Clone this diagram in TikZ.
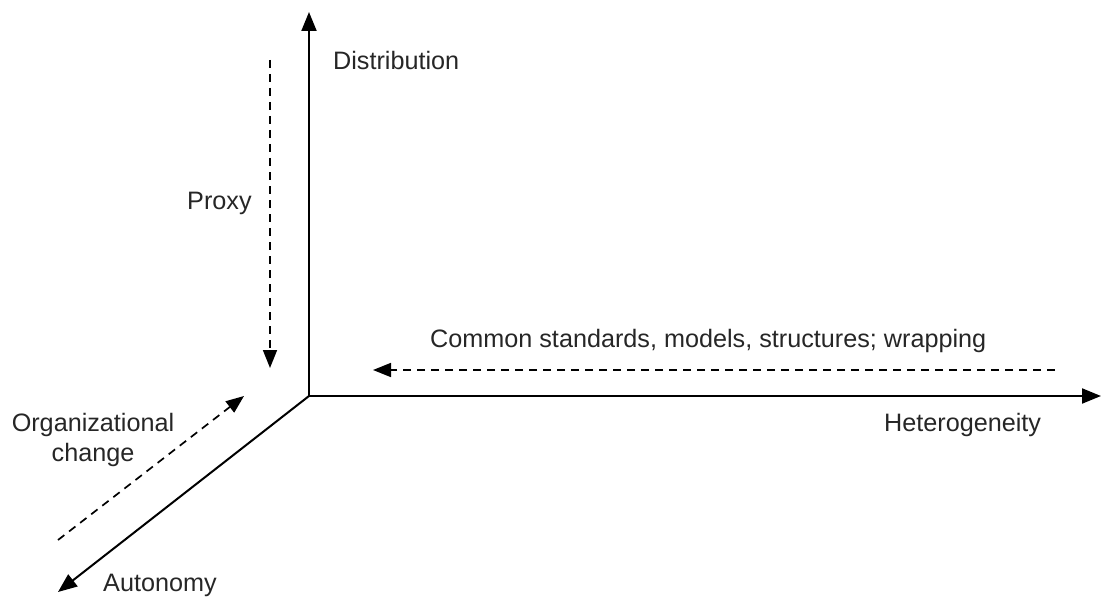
\documentclass[tikz,border=0pt]{standalone}
\usepackage{fontspec}
\setmainfont{Liberation Sans}
\usetikzlibrary{arrows.meta}
\begin{document}
\begin{tikzpicture}[x=1pt,y=-1pt,
  axis/.style={line width=2pt,-{Triangle[length=19pt,width=15pt]}},
  dashline/.style={line width=1.7pt,dash pattern=on 8pt off 6pt,-{Triangle[length=18pt,width=14pt]}},
  lbl/.style={font=\fontsize{25.2}{30}\selectfont,inner sep=0pt,text=black!85}]
\useasboundingbox (0,0) rectangle (1103,599);
\coordinate (O) at (309,396);
\coordinate (Ytop) at (309,12);
\coordinate (Xend) at (1101,396);
\coordinate (Zend) at (58,592);
\draw[axis] (O) -- (Ytop);
\draw[axis] (O) -- (Xend);
\draw[axis] (O) -- (Zend);
\coordinate (P1) at (270,60);
\coordinate (P2) at (270,368);
\draw[dashline] (P1) -- (P2);
\coordinate (C1) at (1055,370);
\coordinate (C2) at (373,370);
\draw[dashline] (C1) -- (C2);
\coordinate (G1) at (58,540);
\coordinate (G2) at (244,396);
\draw[dashline] (G1) -- (G2);
\node[lbl,anchor=west] (dist) at (333,60) {Distribution};
\node[lbl,anchor=west] (proxy) at (187,203) {Proxy};
\node[lbl,anchor=west] (common) at (430,341) {Common standards, models, structures; wrapping};
\node[lbl,anchor=west] (het) at (884,425) {Heterogeneity};
\node[lbl,align=center] (org) at (93,440) {Organizational\\change};
\node[lbl,anchor=west] (auto) at (103,585) {Autonomy};
\end{tikzpicture}
\end{document}
